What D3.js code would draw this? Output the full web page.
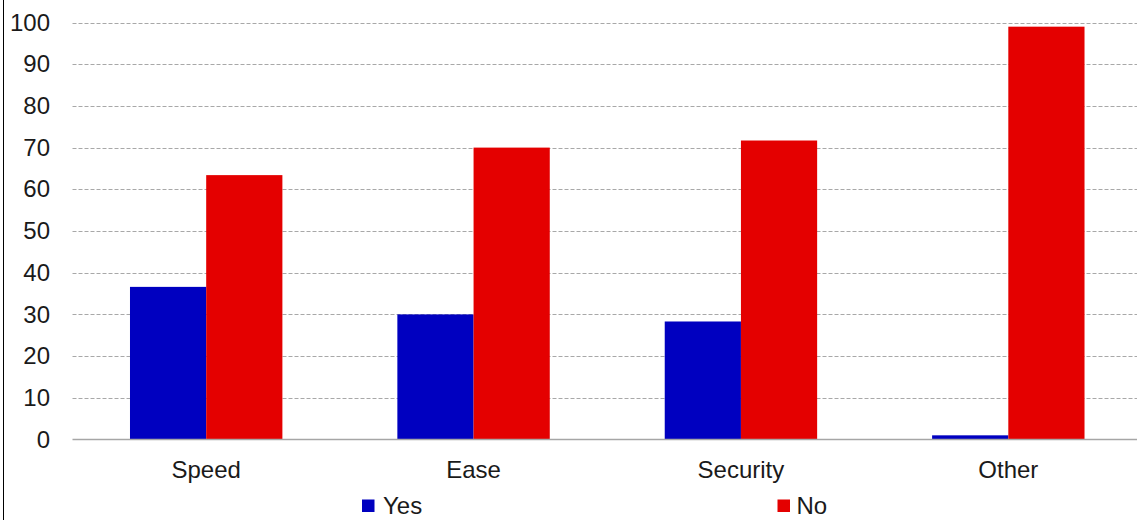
<!DOCTYPE html>
<html><head><meta charset="utf-8">
<script src="https://cdn.jsdelivr.net/npm/d3@7"></script>
<style>body{margin:0;background:#fff}svg{display:block;font-family:Arial,"Liberation Sans",sans-serif}</style>
</head><body>
<svg id="c" width="1137" height="520"></svg>
<script>
const categories = ["Speed", "Ease", "Security", "Other"];
const seriesNames = ["Yes", "No"];
const yesValues = [36.6, 30.0, 28.3, 1.0];
const noValues = [63.4, 70.0, 71.7, 99.0];
const yTicks = [0, 10, 20, 30, 40, 50, 60, 70, 80, 90, 100];
const colors = ["#0000c0", "#e40000"];

const svg = d3.select("#c");
const x0 = 72.5, x1 = 1142, yBottom = 439.5, yTop = 22.5;

const x = d3.scaleBand().domain(categories).range([x0, x1]).paddingInner(0.43).paddingOuter(0.215);
const xs = d3.scaleBand().domain(seriesNames).range([0, x.bandwidth()]);
const y = d3.scaleLinear().domain([0, 100]).range([yBottom, yTop]);

// border on left
svg.append("line").attr("x1", 3.5).attr("x2", 3.5).attr("y1", 0).attr("y2", 520).attr("stroke", "#000").attr("stroke-width", 1);

// gridlines
svg.append("g").selectAll("line").data(yTicks.filter(d => d > 0)).join("line")
  .attr("x1", x0).attr("x2", 1137)
  .attr("y1", d => Math.round(y(d)) + 0.5).attr("y2", d => Math.round(y(d)) + 0.5)
  .attr("stroke", "#a8a8a8").attr("stroke-width", 1).attr("stroke-dasharray", "4,2");

// y tick labels
const yAxis = d3.axisLeft(y).tickValues(yTicks).tickSize(0).tickPadding(0);
const gy = svg.append("g").attr("transform", "translate(50,0)").call(yAxis);
gy.select(".domain").remove();
gy.selectAll("text").attr("font-size", 24).attr("fill", "#1a1a1a").attr("font-family", "Arial, 'Liberation Sans', sans-serif");

// bars
const data = categories.map((c, i) => ({cat: c, vals: [yesValues[i], noValues[i]]}));
const groups = svg.append("g").selectAll("g").data(data).join("g")
  .attr("transform", d => `translate(${x(d.cat)},0)`);
groups.selectAll("rect").data(d => d.vals.map((v, j) => ({s: seriesNames[j], v, j}))).join("rect")
  .attr("x", d => xs(d.s)).attr("width", xs.bandwidth())
  .attr("y", d => y(d.v)).attr("height", d => y(0) - y(d.v))
  .attr("fill", d => colors[d.j]);

// x axis line
svg.append("line").attr("x1", x0).attr("x2", 1137).attr("y1", yBottom).attr("y2", yBottom)
  .attr("stroke", "#a6a6a6").attr("stroke-width", 1.5);

// x labels
const xAxis = d3.axisBottom(x).tickSize(0).tickPadding(0);
const gx = svg.append("g").attr("transform", `translate(0,${yBottom})`).call(xAxis);
gx.select(".domain").remove();
gx.selectAll("text").attr("font-size", 24).attr("fill", "#1a1a1a").attr("dy", null).attr("y", 38.5)
  .attr("font-family", "Arial, 'Liberation Sans', sans-serif");

// legend
const legendX = [362, 777.5];
const leg = svg.append("g").selectAll("g").data(seriesNames).join("g")
  .attr("transform", (d, i) => `translate(${legendX[i]},0)`);
leg.append("rect").attr("x", 0).attr("y", 499.5).attr("width", 12.5).attr("height", 12.5).attr("fill", (d, i) => colors[i]);
leg.append("text").attr("x", (d, i) => i === 0 ? 21 : 19).attr("y", 513.5).attr("font-size", 24).attr("fill", "#1a1a1a").text(d => d);
</script>
</body></html>
